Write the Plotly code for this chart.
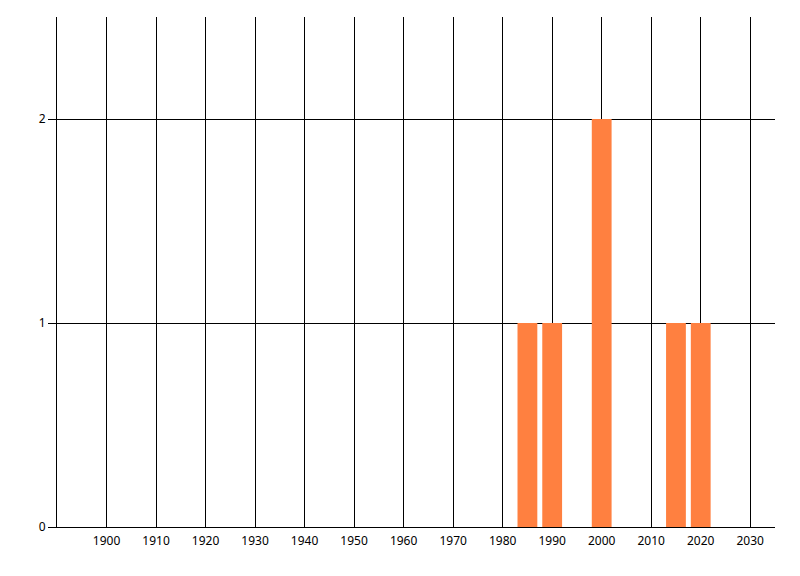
import plotly.graph_objects as go

anos = [1985, 1990, 2000, 2015, 2020]
contagens = [1, 1, 2, 1, 1]
ticks_x = list(range(1900, 2031, 10))
ticks_y = [0, 1, 2]

fig = go.Figure(go.Bar(
    x=anos, y=contagens, width=4,
    marker=dict(color="#ff8040", line=dict(width=0)),
    showlegend=False,
))

# a página tem 8px de margem no body, por isso as margens compensam
fig.update_layout(
    width=800, height=576,
    margin=dict(t=9, b=57, l=49, r=33),
    paper_bgcolor="white", plot_bgcolor="white",
    font=dict(family="Noto Sans, DejaVu Sans", size=12, color="black"),
    xaxis=dict(
        range=[1890, 2035], tickvals=ticks_x, ticktext=[str(t) for t in ticks_x],
        showgrid=True, gridcolor="black", gridwidth=1,
        showline=True, linecolor="black", linewidth=1,
        ticks="", zeroline=False, ticklabelstandoff=3,
    ),
    yaxis=dict(
        range=[0, 2.5], tickvals=ticks_y, ticktext=[str(t) for t in ticks_y],
        showgrid=True, gridcolor="black", gridwidth=1,
        showline=True, linecolor="black", linewidth=1,
        ticks="outside", ticklen=8, tickcolor="black", tickwidth=1,
        zeroline=False,
    ),
)

fig.write_html("out.html")
